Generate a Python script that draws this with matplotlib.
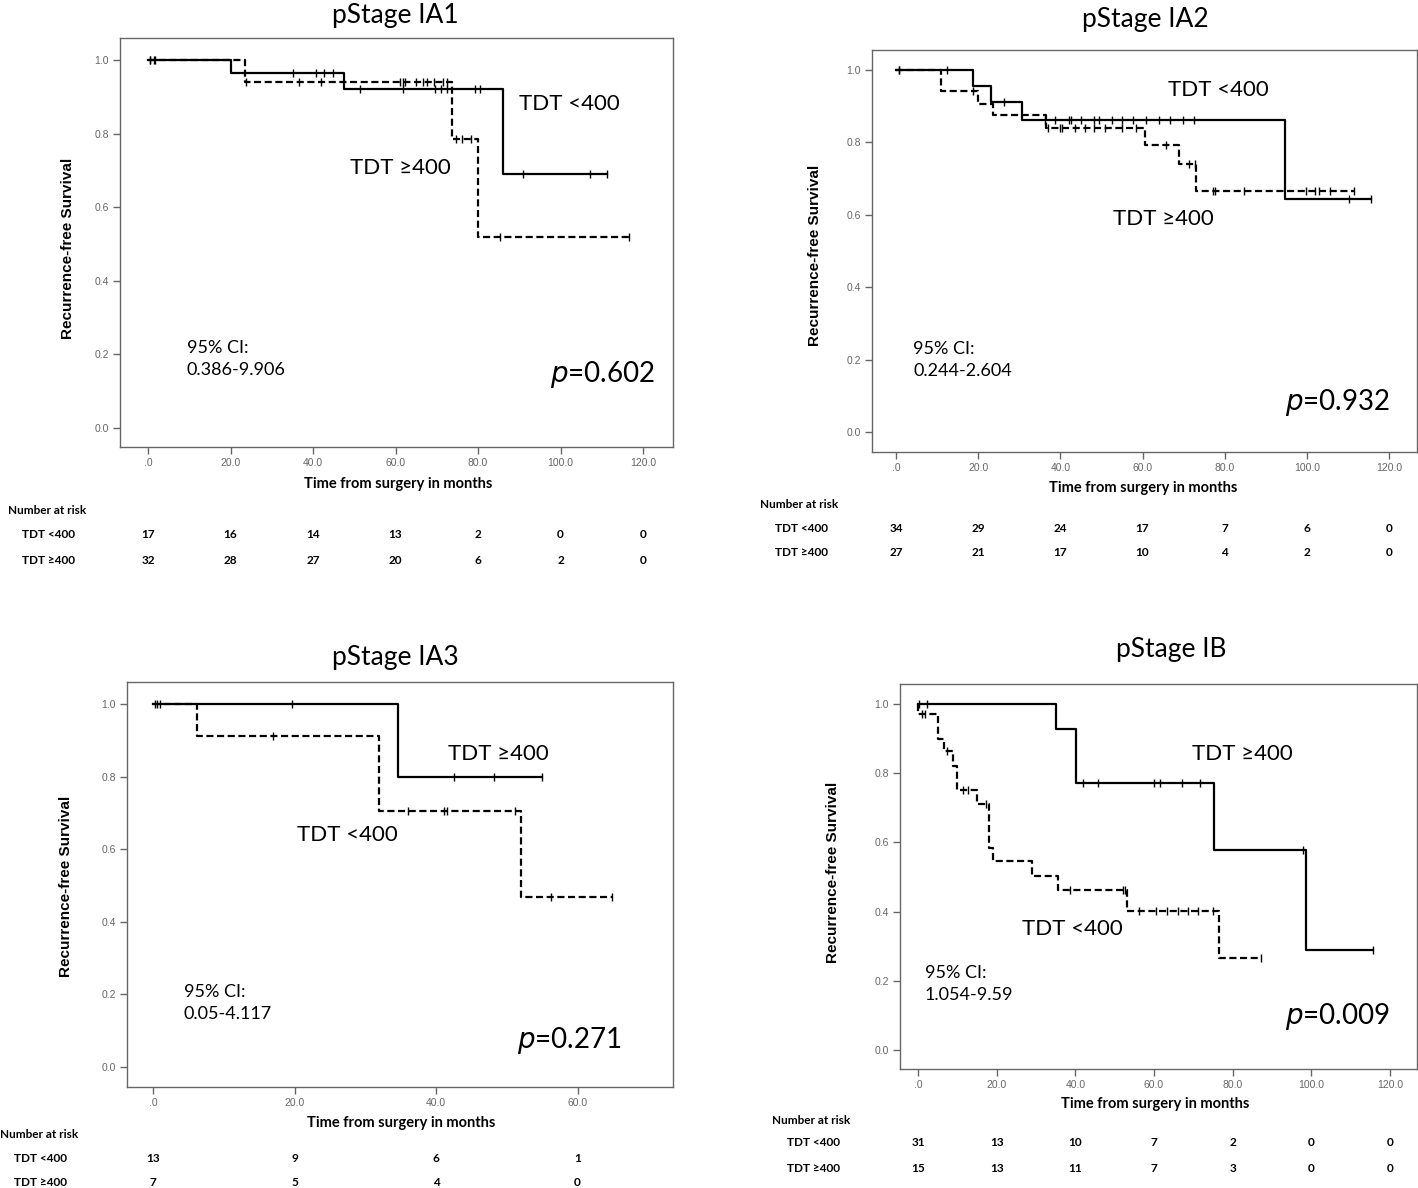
import numpy as np
import matplotlib
matplotlib.use("Agg")
import matplotlib.pyplot as plt
from matplotlib import transforms, font_manager

# ---------------- data ----------------
ticks_long = [0, 20, 40, 60, 80, 100, 120]
ticks_short = [0, 20, 40, 60]

# pStage IA1
ia1_solid_t = [0, 20.0, 47.4, 86.1]
ia1_solid_s = [1.0, 0.965, 0.921, 0.691]
ia1_solid_end = 111.2
ia1_solid_cens = [0.5, 1.5, 35.1, 40.8, 42.7, 44.9, 51.3, 61.8, 69.5, 71.0, 72.5, 79.3, 80.6, 90.8, 107.2, 111.2]
ia1_dash_t = [0, 23.6, 73.8, 80.0]
ia1_dash_s = [1.0, 0.939, 0.785, 0.52]
ia1_dash_end = 116.5
ia1_dash_cens = [0.5, 1.6, 23.8, 36.7, 41.9, 61.2, 61.8, 62.3, 65.0, 66.6, 67.7, 69.3, 71.4, 72.5, 74.6, 76.2, 78.4, 85.4, 116.5]
ia1_risk_lt = [17, 16, 14, 13, 2, 0, 0]
ia1_risk_ge = [32, 28, 27, 20, 6, 2, 0]

# pStage IA2
ia2_solid_t = [0, 18.8, 23.2, 30.6, 94.8]
ia2_solid_s = [1.0, 0.956, 0.912, 0.862, 0.645]
ia2_solid_end = 115.6
ia2_solid_cens = [0.7, 12.3, 26.2, 36.2, 38.8, 42.0, 42.5, 45.1, 48.3, 49.3, 52.5, 55.1, 57.7, 60.9, 64.0, 66.7, 69.8, 72.5, 110.3, 115.6]
ia2_dash_t = [0, 11.0, 19.9, 23.6, 36.5, 60.6, 68.8, 73.0]
ia2_dash_s = [1.0, 0.943, 0.906, 0.876, 0.841, 0.792, 0.740, 0.666]
ia2_dash_end = 111.4
ia2_dash_cens = [0.7, 18.8, 37.0, 39.8, 40.3, 43.5, 46.1, 48.3, 50.9, 55.1, 58.3, 65.6, 71.4, 72.7, 77.2, 77.7, 84.6, 99.8, 101.9, 103.0, 105.6, 111.4]
ia2_risk_lt = [34, 29, 24, 17, 7, 6, 0]
ia2_risk_ge = [27, 21, 17, 10, 4, 2, 0]

# pStage IA3
ia3_solid_t = [0, 34.6]
ia3_solid_s = [1.0, 0.80]
ia3_solid_end = 55.0
ia3_solid_cens = [0.3, 0.6, 1.0, 19.6, 42.6, 48.2, 55.0]
ia3_dash_t = [0, 6.2, 31.9, 52.0]
ia3_dash_s = [1.0, 0.911, 0.706, 0.469]
ia3_dash_end = 64.9
ia3_dash_cens = [16.9, 36.0, 41.2, 41.6, 51.2, 56.2, 64.9]
ia3_risk_lt = [13, 9, 6, 1]
ia3_risk_ge = [7, 5, 4, 0]

# pStage IB
ib_solid_t = [0, 35.2, 40.1, 75.2, 98.7]
ib_solid_s = [1.0, 0.927, 0.771, 0.579, 0.289]
ib_solid_end = 115.7
ib_solid_cens = [0.3, 2.2, 41.9, 45.7, 60.1, 61.4, 67.0, 71.8, 97.9, 115.7]
ib_dash_t = [0, 0.1, 5.1, 6.7, 9.0, 9.8, 14.9, 18.0, 19.1, 28.9, 35.7, 53.2, 76.4]
ib_dash_s = [1.0, 0.970, 0.899, 0.864, 0.82, 0.752, 0.712, 0.584, 0.545, 0.502, 0.462, 0.403, 0.267]
ib_dash_end = 87.3
ib_dash_cens = [0.9, 1.7, 7.4, 11.5, 12.6, 17.4, 38.7, 52.0, 52.6, 56.3, 60.6, 63.3, 66.0, 68.6, 71.3, 75.0, 87.3]
ib_risk_lt = [31, 13, 10, 7, 2, 0, 0]
ib_risk_ge = [15, 13, 11, 7, 3, 0, 0]

titles = ["pStage IA1", "pStage IA2", "pStage IA3", "pStage IB"]
ci_texts = ["95% CI:\n0.386-9.906", "95% CI:\n0.244-2.604", "95% CI:\n0.05-4.117", "95% CI:\n1.054-9.59"]
p_values = ["0.602", "0.932", "0.271", "0.009"]
grp_lt = "TDT <400"
grp_ge = "TDT \u2265400"

# ---------------- style ----------------
W, H = 1418, 1188
fig = plt.figure(figsize=(W / 100, H / 100), dpi=100)
avail = {f.name for f in font_manager.fontManager.ttflist}
CAL = 'Lato' if 'Lato' in avail else 'DejaVu Sans'
NARROW = 'Liberation Sans Narrow' if 'Liberation Sans Narrow' in avail else 'Liberation Sans'
ARIAL = 'Liberation Sans'
GRAY = '#666666'


def fx(x):
    return x / W


def fy(y):
    return 1 - y / H


def ftext(x, y, s, **kw):
    fig.text(fx(x), fy(y), s, **kw)


def step_curve(ax, t, s, end, cens, dashed):
    xs = list(t) + [end]
    ys = list(s) + [s[-1]]
    kw = dict(color='black', lw=1.6)
    if dashed:
        kw.update(linestyle=(0, (3.2, 1.6)))
    ax.step(xs, ys, where='post', **kw)
    t_arr = np.asarray(t)
    s_arr = np.asarray(s)
    cy = s_arr[np.searchsorted(t_arr, np.asarray(cens), side='right') - 1]
    ax.plot(cens, cy, linestyle='none', marker='|', ms=5.5, mew=1.0, color='black')


def panel(rect, x0tick, xstep_px, y1px, y0px, xticks, curves, risk_lt, risk_ge, txt):
    left, top, right, bottom = rect
    ax = fig.add_axes([fx(left), fy(bottom), (right - left) / W, (bottom - top) / H])
    ppm = xstep_px / 20.0
    ax.set_xlim((left - x0tick) / ppm, (right - x0tick) / ppm)
    ppy = (y0px - y1px)
    ax.set_ylim(-(bottom - y0px) / ppy, 1 + (y1px - top) / ppy)
    for c in curves:
        step_curve(ax, *c)
    ax.set_xticks(xticks)
    ax.set_xticklabels(['.0' if v == 0 else f'{v:.1f}' for v in xticks])
    ax.set_yticks([0, 0.2, 0.4, 0.6, 0.8, 1.0])
    ax.set_yticklabels([f'{v:.1f}' for v in [0, 0.2, 0.4, 0.6, 0.8, 1.0]])
    for sp in ax.spines.values():
        sp.set_color(GRAY)
        sp.set_linewidth(1.0)
    ax.tick_params(direction='out', length=5, width=1, color=GRAY, labelcolor=GRAY, pad=3)
    for lab in ax.get_xticklabels() + ax.get_yticklabels():
        lab.set_fontfamily(NARROW)
        lab.set_fontsize(7.5)
    # risk table
    tr = transforms.blended_transform_factory(ax.transData, fig.transFigure)
    for xv, a, b in zip(xticks, risk_lt, risk_ge):
        ax.text(xv, fy(txt['r1']), str(a), transform=tr, ha='center', va='center',
                fontsize=8.5, fontweight='bold', family=CAL, clip_on=False)
        ax.text(xv, fy(txt['r2']), str(b), transform=tr, ha='center', va='center',
                fontsize=8.5, fontweight='bold', family=CAL, clip_on=False)
    return ax


# positions: (left, top, right, bottom) frame in px; tick 0 px; 20-month px; y(1.0) px; y(0.0) px
layouts = [
    dict(rect=(120, 38, 673, 447), x0=148, step=82.5, y1=60, y0=428),
    dict(rect=(872, 50, 1417, 452), x0=896, step=82.17, y1=70, y0=432),
    dict(rect=(127, 682, 673, 1087), x0=153, step=141.5, y1=704, y0=1067),
    dict(rect=(900, 684, 1417, 1069), x0=918, step=78.67, y1=704, y0=1050),
]
texts = [
    dict(title=(395, 15), ylab=(68, 248), xlab=(398, 484), nar=(8, 511), rl=22, r1=535, r2=561,
         lt=(519, 104), ge=(350, 168), ci=(187, 352), p=(655, 374)),
    dict(title=(1145, 20), ylab=(815, 255), xlab=(1143, 488), nar=(760, 504), rl=775, r1=528, r2=553,
         lt=(1168, 90), ge=(1113, 219), ci=(913, 353), p=(1390, 402)),
    dict(title=(395, 657), ylab=(66, 886), xlab=(401, 1123), nar=(0, 1134), rl=14, r1=1158, r2=1183,
         lt=(297, 835), ge=(448, 754), ci=(184, 996), p=(622, 1040)),
    dict(title=(1171, 650), ylab=(833, 872), xlab=(1155, 1104), nar=(772, 1120), rl=787, r1=1143, r2=1169,
         lt=(1022, 929), ge=(1192, 754), ci=(925, 977), p=(1390, 1016)),
]
curve_sets = [
    [(ia1_solid_t, ia1_solid_s, ia1_solid_end, ia1_solid_cens, False),
     (ia1_dash_t, ia1_dash_s, ia1_dash_end, ia1_dash_cens, True)],
    [(ia2_solid_t, ia2_solid_s, ia2_solid_end, ia2_solid_cens, False),
     (ia2_dash_t, ia2_dash_s, ia2_dash_end, ia2_dash_cens, True)],
    [(ia3_solid_t, ia3_solid_s, ia3_solid_end, ia3_solid_cens, False),
     (ia3_dash_t, ia3_dash_s, ia3_dash_end, ia3_dash_cens, True)],
    [(ib_solid_t, ib_solid_s, ib_solid_end, ib_solid_cens, False),
     (ib_dash_t, ib_dash_s, ib_dash_end, ib_dash_cens, True)],
]
xtick_sets = [ticks_long, ticks_long, ticks_short, ticks_long]
risks = [(ia1_risk_lt, ia1_risk_ge), (ia2_risk_lt, ia2_risk_ge),
         (ia3_risk_lt, ia3_risk_ge), (ib_risk_lt, ib_risk_ge)]

for i in range(4):
    L = layouts[i]
    T = texts[i]
    panel(L['rect'], L['x0'], L['step'], L['y1'], L['y0'], xtick_sets[i], curve_sets[i],
          risks[i][0], risks[i][1], T)
    ftext(*T['title'], titles[i], ha='center', va='center', fontsize=19, family=CAL)
    ftext(*T['ylab'], 'Recurrence-free Survival', ha='center', va='center', rotation=90,
          fontsize=11, fontweight='bold', family=ARIAL)
    ftext(*T['xlab'], 'Time from surgery in months', ha='center', va='center',
          fontsize=10.5, fontweight='bold', family=CAL)
    ftext(*T['nar'], 'Number at risk', ha='left', va='center', fontsize=8.5,
          fontweight='bold', family=CAL)
    ftext(T['rl'], T['r1'], grp_lt, ha='left', va='center', fontsize=8.5, fontweight='bold', family=CAL)
    ftext(T['rl'], T['r2'], grp_ge, ha='left', va='center', fontsize=8.5, fontweight='bold',
          family=[CAL, 'DejaVu Sans'])
    ftext(*T['lt'], grp_lt, ha='left', va='center', fontsize=16, family=CAL)
    ftext(*T['ge'], grp_ge, ha='left', va='center', fontsize=16, family=[CAL, 'DejaVu Sans'])
    ftext(T['ci'][0], T['ci'][1] - 12, ci_texts[i], ha='left', va='top', fontsize=13,
          family=CAL, linespacing=1.45)
    ftext(*T['p'], r'$\mathit{p}$' + '=' + p_values[i], ha='right', va='center', fontsize=20,
          family=CAL)

fig.savefig('out.png', dpi=100)
